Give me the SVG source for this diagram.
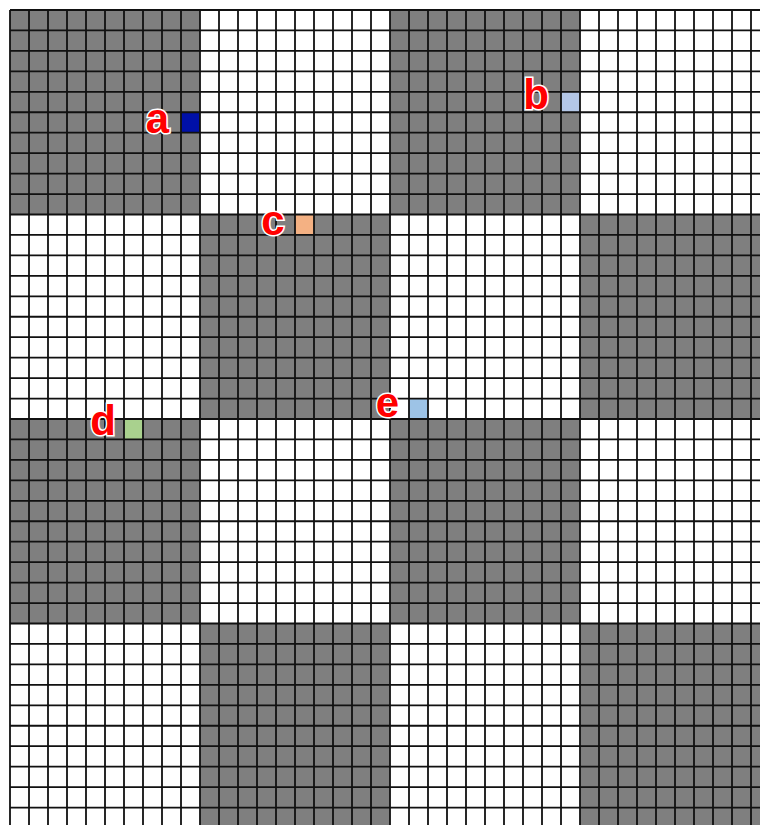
<svg xmlns="http://www.w3.org/2000/svg" width="760" height="825" viewBox="0 0 760 825">
<style>
.blk{fill:#7f7f7f}
.grid{stroke:#111;stroke-width:1.8;fill:none}
.lbl{font-family:"Liberation Sans",Arial,sans-serif;font-weight:bold;font-size:42px;fill:#ff0000;stroke:#ffffff;stroke-width:3;paint-order:stroke;text-anchor:middle}
.lblbg{fill:#d9d9d9;opacity:0.6}
</style>
<rect x="0" y="0" width="760" height="825" fill="#ffffff"/>
<g id="blocks">
<rect class="blk" x="10" y="10" width="190" height="204.5"/>
<rect class="blk" x="390" y="10" width="190" height="204.5"/>
<rect class="blk" x="200" y="214.5" width="190" height="204.5"/>
<rect class="blk" x="580" y="214.5" width="190" height="204.5"/>
<rect class="blk" x="10" y="419" width="190" height="204.5"/>
<rect class="blk" x="390" y="419" width="190" height="204.5"/>
<rect class="blk" x="200" y="623.5" width="190" height="204.5"/>
<rect class="blk" x="580" y="623.5" width="190" height="204.5"/>
</g>
<g id="cells">
<rect id="cell-a" x="181" y="112.25" width="19" height="20.45" fill="#0010a8"/>
<rect id="cell-b" x="561" y="91.8" width="19" height="20.45" fill="#b4c7e7"/>
<rect id="cell-c" x="295" y="214.5" width="19" height="20.45" fill="#f4b183"/>
<rect id="cell-d" x="124" y="419" width="19" height="20.45" fill="#a9d18e"/>
<rect id="cell-e" x="409" y="398.55" width="19" height="20.45" fill="#9dc3e6"/>
</g>
<g id="gridlines">
<path class="grid" d="M10 10V828M29 10V828M48 10V828M67 10V828M86 10V828M105 10V828M124 10V828M143 10V828M162 10V828M181 10V828M200 10V828M219 10V828M238 10V828M257 10V828M276 10V828M295 10V828M314 10V828M333 10V828M352 10V828M371 10V828M390 10V828M409 10V828M428 10V828M447 10V828M466 10V828M485 10V828M504 10V828M523 10V828M542 10V828M561 10V828M580 10V828M599 10V828M618 10V828M637 10V828M656 10V828M675 10V828M694 10V828M713 10V828M732 10V828M751 10V828"/>
<path class="grid" d="M10 10H770M10 30.45H770M10 50.9H770M10 71.35H770M10 91.8H770M10 112.25H770M10 132.7H770M10 153.15H770M10 173.6H770M10 194.05H770M10 214.5H770M10 234.95H770M10 255.4H770M10 275.85H770M10 296.3H770M10 316.75H770M10 337.2H770M10 357.65H770M10 378.1H770M10 398.55H770M10 419H770M10 439.45H770M10 459.9H770M10 480.35H770M10 500.8H770M10 521.25H770M10 541.7H770M10 562.15H770M10 582.6H770M10 603.05H770M10 623.5H770M10 643.95H770M10 664.4H770M10 684.85H770M10 705.3H770M10 725.75H770M10 746.2H770M10 766.65H770M10 787.1H770M10 807.55H770"/>
</g>
<g id="labels">
<text id="label-a" class="lbl" x="157.5" y="133">a</text>
<text id="label-b" class="lbl" x="536" y="109">b</text>
<text id="label-c" class="lbl" x="273" y="235">c</text>
<text id="label-d" class="lbl" x="103" y="435">d</text>
<text id="label-e" class="lbl" x="387.5" y="417">e</text>
</g>
</svg>
